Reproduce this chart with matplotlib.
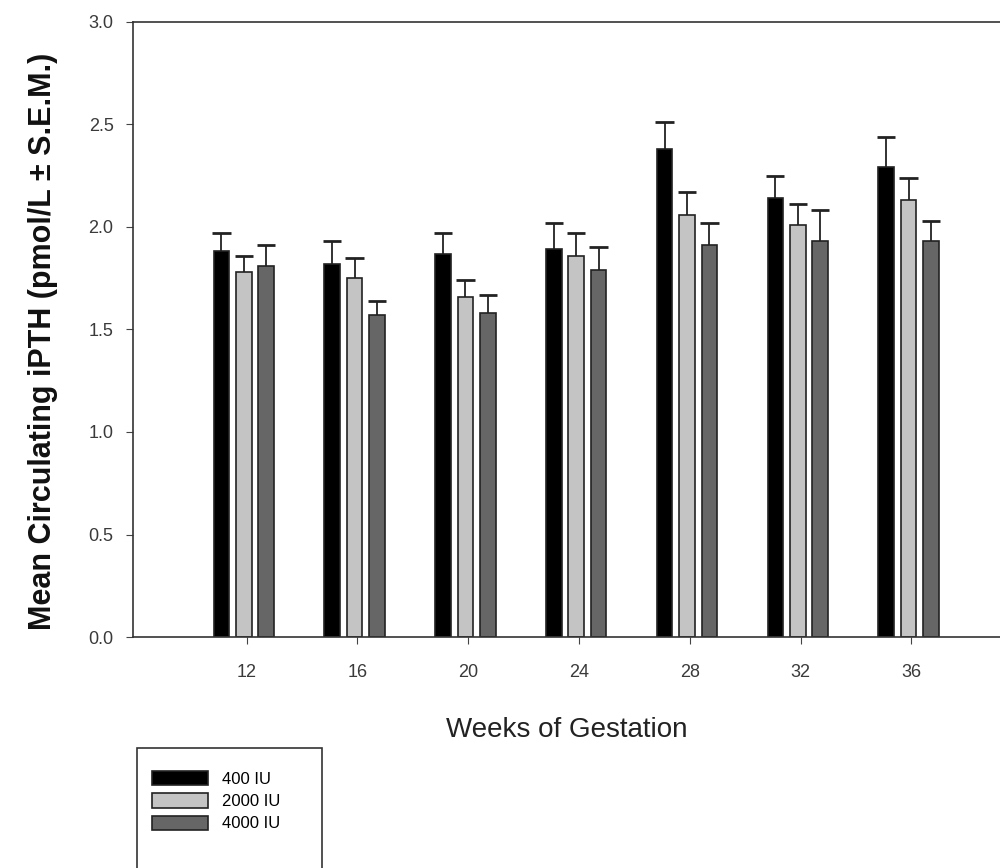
import numpy as np
import matplotlib
matplotlib.use("Agg")
import matplotlib.pyplot as plt
from matplotlib.patches import Rectangle

plt.rcParams["font.family"] = ["Liberation Sans", "DejaVu Sans"]

weeks = [12, 16, 20, 24, 28, 32, 36]
doses = ["400 IU", "2000 IU", "4000 IU"]
mean_400 = [1.88, 1.82, 1.87, 1.89, 2.38, 2.14, 2.29]
sem_400 = [0.09, 0.11, 0.10, 0.13, 0.13, 0.11, 0.15]
mean_2000 = [1.78, 1.75, 1.66, 1.86, 2.06, 2.01, 2.13]
sem_2000 = [0.08, 0.10, 0.08, 0.11, 0.11, 0.10, 0.11]
mean_4000 = [1.81, 1.57, 1.58, 1.79, 1.91, 1.93, 1.93]
sem_4000 = [0.10, 0.07, 0.09, 0.11, 0.11, 0.15, 0.10]

colors = ["#000000", "#c4c4c4", "#666666"]

fig = plt.figure(figsize=(10, 8.68), dpi=100)
ax = fig.add_axes([0.133, 0.266, 0.867, 0.709])

x = np.array(weeks, dtype=float)
step = 0.81
width = 0.56
cap = 0.33
series = [(mean_400, sem_400), (mean_2000, sem_2000), (mean_4000, sem_4000)]
for i, ((m, s), c, lab) in enumerate(zip(series, colors, doses)):
    xpos = x + (i - 1) * step - 0.1
    m = np.array(m)
    top = m + np.array(s)
    # upper error bar only: stem from bar top plus one cap
    ax.vlines(xpos, m, top, color="#222222", linewidth=1.3, zorder=1)
    ax.hlines(top, xpos - cap, xpos + cap, color="#222222", linewidth=2.0, zorder=1)
    ax.bar(xpos, m, width=width, color=c, edgecolor="#222222", linewidth=1.2,
           label=lab, zorder=2)

ax.set_xlim(7.9, 39.2)
ax.set_ylim(0, 3.0)
ax.set_xticks(weeks)
ax.set_yticks(np.arange(0, 3.01, 0.5))
ax.set_yticklabels([f"{v:.1f}" for v in np.arange(0, 3.01, 0.5)])
ax.tick_params(axis="both", labelsize=13, labelcolor="#3a3a3a", direction="out",
               length=5, color="#444444")
ax.tick_params(axis="x", pad=14)
ax.tick_params(axis="y", pad=9)
ax.spines["right"].set_visible(False)
for sp in ["left", "bottom", "top"]:
    ax.spines[sp].set_color("#333333")
    ax.spines[sp].set_linewidth(1.2)

ax.set_xlabel("Weeks of Gestation", fontsize=20, color="#222222", labelpad=26)
ax.set_ylabel("Mean Circulating iPTH (pmol/L \u00b1 S.E.M.)", fontsize=22,
              fontweight="bold", color="#111111", labelpad=22, y=0.481)

# legend box runs off the bottom edge of the figure
fig.patches.append(Rectangle((137 / 1000, -0.02), (322 - 137) / 1000, 0.02 + 120 / 868,
                             transform=fig.transFigure, fill=False,
                             edgecolor="#333333", linewidth=1.2))
fig.legend(loc="upper left", bbox_to_anchor=(0.152, 1 - 771 / 868), fontsize=12,
           frameon=False, handlelength=3.35, handleheight=0.95, labelspacing=0.38,
           borderpad=0, handletextpad=0.85, borderaxespad=0)

fig.savefig("out.png", dpi=100)
